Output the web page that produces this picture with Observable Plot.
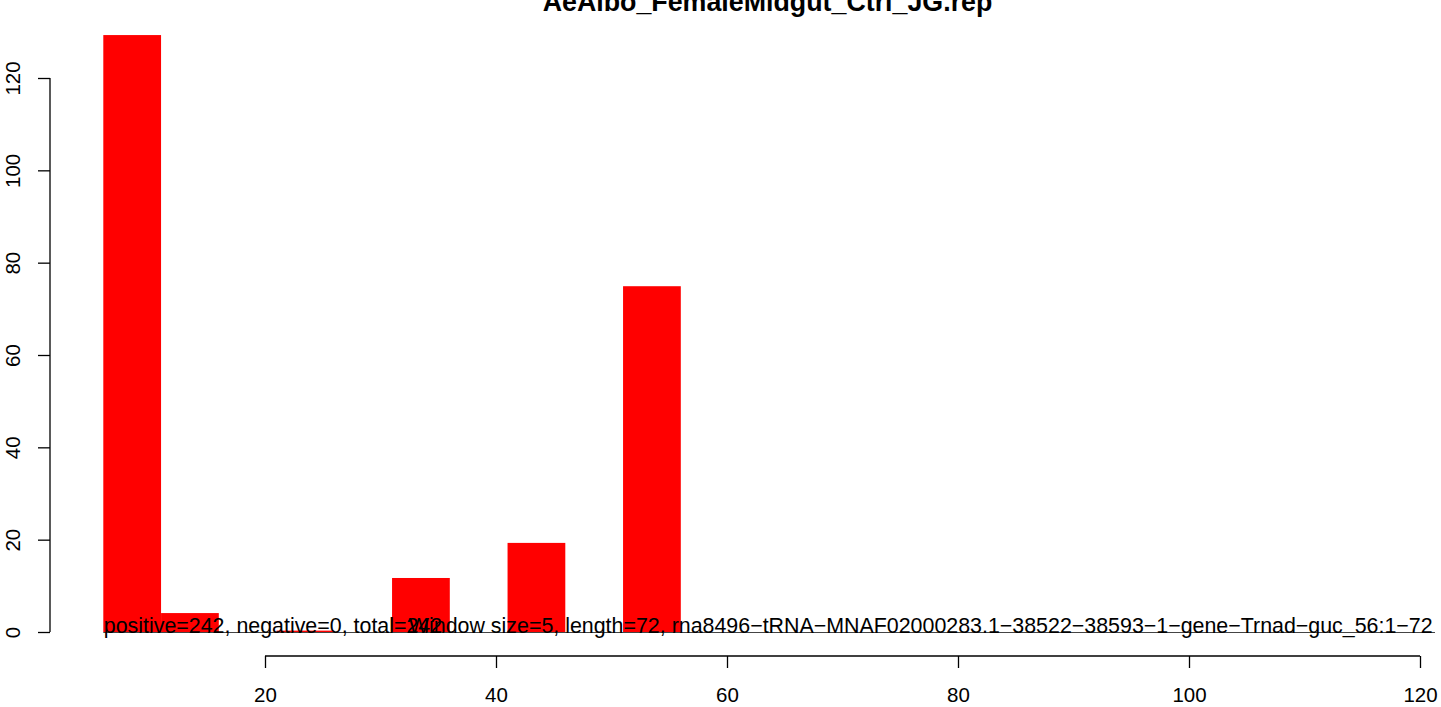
<!DOCTYPE html>
<html>
<head>
<meta charset="utf-8">
<script src="https://cdn.jsdelivr.net/npm/d3@7"></script>
<script src="https://cdn.jsdelivr.net/npm/@observablehq/plot@0.6"></script>
<style>
  html, body { margin: 0; padding: 0; background: #fff; overflow: hidden; }
  #chart svg { display: block; }
</style>
</head>
<body>
<div id="chart"></div>
<script>
// ---- data ----
const title = "AeAlbo_FemaleMidgut_Ctrl_JG.rep";
const binStart = [6, 11, 16, 21, 26, 31, 36, 41, 46, 51];
const binValue = [129.3, 4.1, 0, 0.3, 0, 11.7, 0, 19.3, 0, 74.9];
const windowSize = 5;
const xTicks = [20, 40, 60, 80, 100, 120];
const yTicks = [0, 20, 40, 60, 80, 100, 120];
const infoLeft = "positive=242, negative=0, total=242";
const infoRight = "Window size=5, length=72, rna8496\u2212tRNA\u2212MNAF02000283.1\u221238522\u221238593\u22121\u2212gene\u2212Trnad\u2212guc_56:1\u221272";
const baseLineExtent = [6, 121.3];

const bars = binStart.map((s, i) => ({x1: s, x2: s + windowSize, y: binValue[i]}));

const font = "'Liberation Sans', Arial, Helvetica, sans-serif";

const chart = Plot.plot({
  width: 1441,
  height: 707,
  marginLeft: 50,
  marginRight: 0,
  marginTop: 0,
  marginBottom: 51,
  x: {domain: [0, 120], range: [34, 1420]},
  y: {domain: [0, 120], range: [632, 78]},
  style: {fontFamily: font, fontSize: "20px", color: "#000", background: "#fff", overflow: "visible"},
  marks: [
    Plot.rectY(bars, {x1: "x1", x2: "x2", y: "y", fill: "#FF0000"}),
    Plot.ruleY([0], {x1: baseLineExtent[0], x2: baseLineExtent[1], stroke: "#444", strokeWidth: 1}),
    Plot.text([infoLeft], {x: baseLineExtent[0], y: 0, text: d => d, textAnchor: "start", lineAnchor: "bottom", fill: "#000", fontSize: 21.4}),
    Plot.text([infoRight], {x: 121.05, y: 0, text: d => d, textAnchor: "end", lineAnchor: "bottom", fill: "#000", fontSize: 21.4}),
    Plot.axisX({ticks: xTicks, tickSize: 12, tickPadding: 19, tickFormat: d => String(d), anchor: "bottom", stroke: "#000", strokeWidth: 1.3, fontSize: 20.5, label: null}),
    Plot.axisY({ticks: yTicks, tickSize: 12, tickFormat: () => "", anchor: "left", stroke: "#000", strokeWidth: 1.3, label: null}),
    Plot.text(yTicks, {y: d => d, text: d => String(d), frameAnchor: "left", dx: -37, rotate: -90, textAnchor: "middle", lineAnchor: "middle", fill: "#000", fontSize: 20.5}),
    Plot.text([title], {frameAnchor: "top", dx: 21.5, dy: 10, text: d => d, lineAnchor: "bottom", fontWeight: "bold", fontSize: 26.8, fill: "#000"})
  ]
});

// axis lines drawn through the plot's own scales
const sx = chart.scale("x"), sy = chart.scale("y");
const svg = d3.select(chart);
const bottomY = 707 - 51;
svg.append("line")
  .attr("x1", sx.apply(d3.min(xTicks))).attr("x2", sx.apply(d3.max(xTicks)))
  .attr("y1", bottomY).attr("y2", bottomY)
  .attr("stroke", "#000").attr("stroke-width", 1.3);
svg.append("line")
  .attr("x1", 50).attr("x2", 50)
  .attr("y1", sy.apply(d3.min(yTicks))).attr("y2", sy.apply(d3.max(yTicks)))
  .attr("stroke", "#000").attr("stroke-width", 1.3);

document.getElementById("chart").appendChild(chart);
</script>
</body>
</html>
